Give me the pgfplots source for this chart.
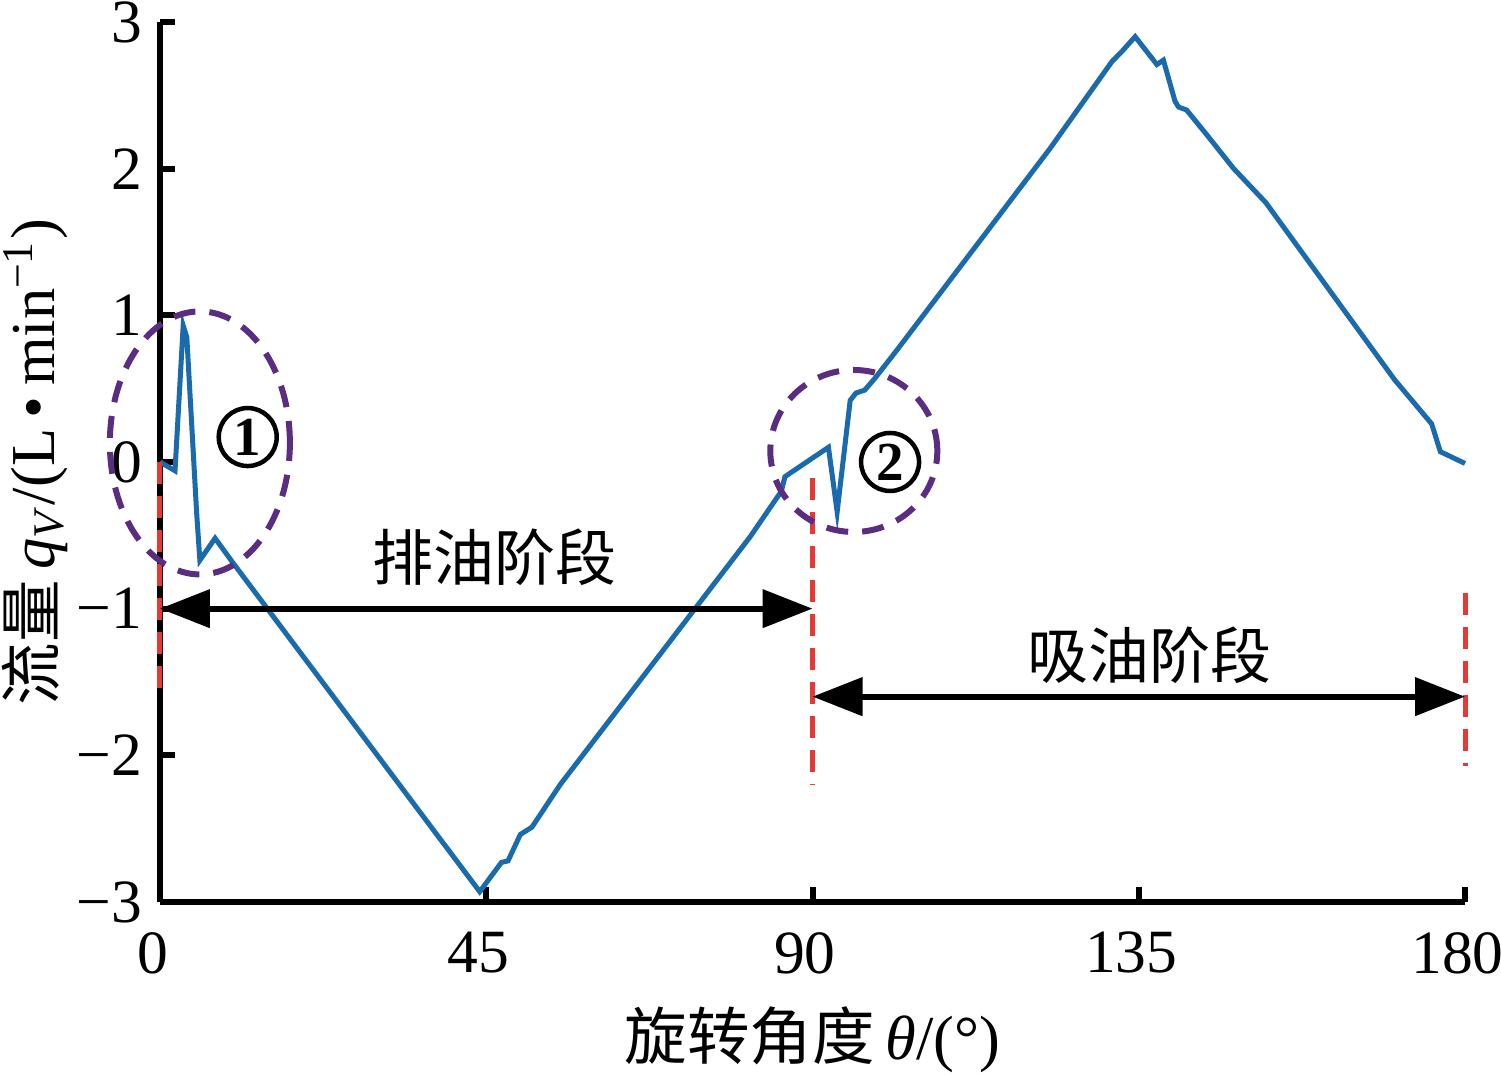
\documentclass[border=0pt]{standalone}
\usepackage{fontspec}
\setmainfont{Liberation Serif}
\newfontfamily\cjk{Noto Sans CJK SC}
\usepackage{pgfplots}
\pgfplotsset{compat=1.18}
\usetikzlibrary{arrows.meta}

\definecolor{curveblue}{HTML}{1A6AAE}
\definecolor{ringpurple}{HTML}{5A2D82}
\definecolor{markred}{HTML}{E53935}

\begin{document}
\begin{tikzpicture}
\begin{axis}[
    scale only axis,
    width=261pt, height=176pt,
    xmin=0, xmax=180, ymin=-3, ymax=3,
    axis lines=left,
    axis line style={-, line width=1.2pt},
    xtick={0,45,90,135,180},
    ytick={-3,-2,-1,0,1,2,3},
    yticklabels={−3,−2,−1,0,1,2,3},
    xticklabels={0,45,90,135,180},
    tick align=inside,
    major tick length=3pt,
    tick style={line width=1.2pt, black},
    tick label style={font=\fontsize{12.3}{14}\selectfont},
    xticklabel style={xshift=-1.5pt, yshift=-2.5pt},
    xlabel={{\cjk 旋转角度}\,\textit{θ}/(°)},
    ylabel={{\cjk 流量}\,\textit{q}\textsubscript{\textit{V}}/(L\,•\,min\textsuperscript{−1})},
    label style={font=\fontsize{12.5}{14}\selectfont},
    xlabel style={at={(axis description cs:0.5,-0.157)}, anchor=center},
    ylabel style={at={(axis description cs:-0.0958,0.5)}, anchor=center},
    clip=false,
]
\addplot[curveblue, line width=1pt] coordinates {
 (0,0) (2.07,-0.06) (3.2,0.93) (3.7,0.85) (5.06,-0.35) (5.5,-0.67)
 (7.6,-0.52) (10.1,-0.69) (44.1,-2.93) (47.1,-2.73) (48.0,-2.72)
 (49.7,-2.54) (51.3,-2.49) (55.2,-2.2) (81.4,-0.51) (85.7,-0.2)
 (86.2,-0.1) (92.2,0.10) (93.4,-0.34) (95.2,0.42) (96.0,0.47)
 (97.2,0.49) (98.6,0.57) (101.6,0.76) (122.8,2.14) (131.3,2.73)
 (132.7,2.80) (134.5,2.90) (137.5,2.71) (138.4,2.74) (140.0,2.46)
 (140.5,2.42) (141.6,2.40) (144.4,2.23) (148.1,2.00) (152.5,1.77)
 (170.3,0.56) (175.4,0.26) (176.6,0.07) (180,-0.01)
};

% red phase boundaries
\draw[markred, line width=1pt, dash pattern=on 4.4pt off 2.4pt] (axis cs:0,0) -- (axis cs:0,-1.575);
\draw[markred, line width=1pt, dash pattern=on 4.4pt off 2.4pt] (axis cs:90,-0.11) -- (axis cs:90,-2.2);
\draw[markred, line width=1pt, dash pattern=on 4.4pt off 2.4pt] (axis cs:180,-0.89) -- (axis cs:180,-2.07);

% phase arrows
\draw[black, line width=1.2pt, {Triangle[length=10pt,width=7.5pt]}-{Triangle[length=10pt,width=7.5pt]}]
  (axis cs:0,-1) -- (axis cs:90,-1);
\draw[black, line width=1.2pt, {Triangle[length=10pt,width=7.5pt]}-{Triangle[length=10pt,width=7.5pt]}]
  (axis cs:90,-1.6) -- (axis cs:180,-1.6);
\node[font=\cjk\fontsize{12.2}{14}\selectfont] at (axis cs:46.2,-0.65) {排油阶段};
\node[font=\cjk\fontsize{12.2}{14}\selectfont] at (axis cs:136.5,-1.32) {吸油阶段};

% highlighted regions
\draw[ringpurple, line width=1.2pt, dash pattern=on 4.4pt off 2.8pt]
  (axis cs:5.5,0.13) ellipse [x radius=18pt, y radius=26.3pt];
\draw[ringpurple, line width=1.2pt, dash pattern=on 4.4pt off 2.8pt]
  (axis cs:95.7,0.075) ellipse [x radius=16.7pt, y radius=16.2pt];
\node[circle, draw, line width=0.9pt, inner sep=0pt, minimum size=11.6pt,
      font=\bfseries\fontsize{11}{11}\selectfont] at (axis cs:12.1,0.17) {1};
\node[circle, draw, line width=0.9pt, inner sep=0pt, minimum size=11.6pt,
      font=\bfseries\fontsize{11}{11}\selectfont] at (axis cs:100.7,0) {2};

\path (rel axis cs:0,0) ++(-32pt,-34.6pt) coordinate (bbll);
\path (rel axis cs:1,1) ++(7.2pt,4.4pt) coordinate (bbur);
\end{axis}
\pgfresetboundingbox
\path[use as bounding box] (bbll) rectangle (bbur);
\end{tikzpicture}
\end{document}
